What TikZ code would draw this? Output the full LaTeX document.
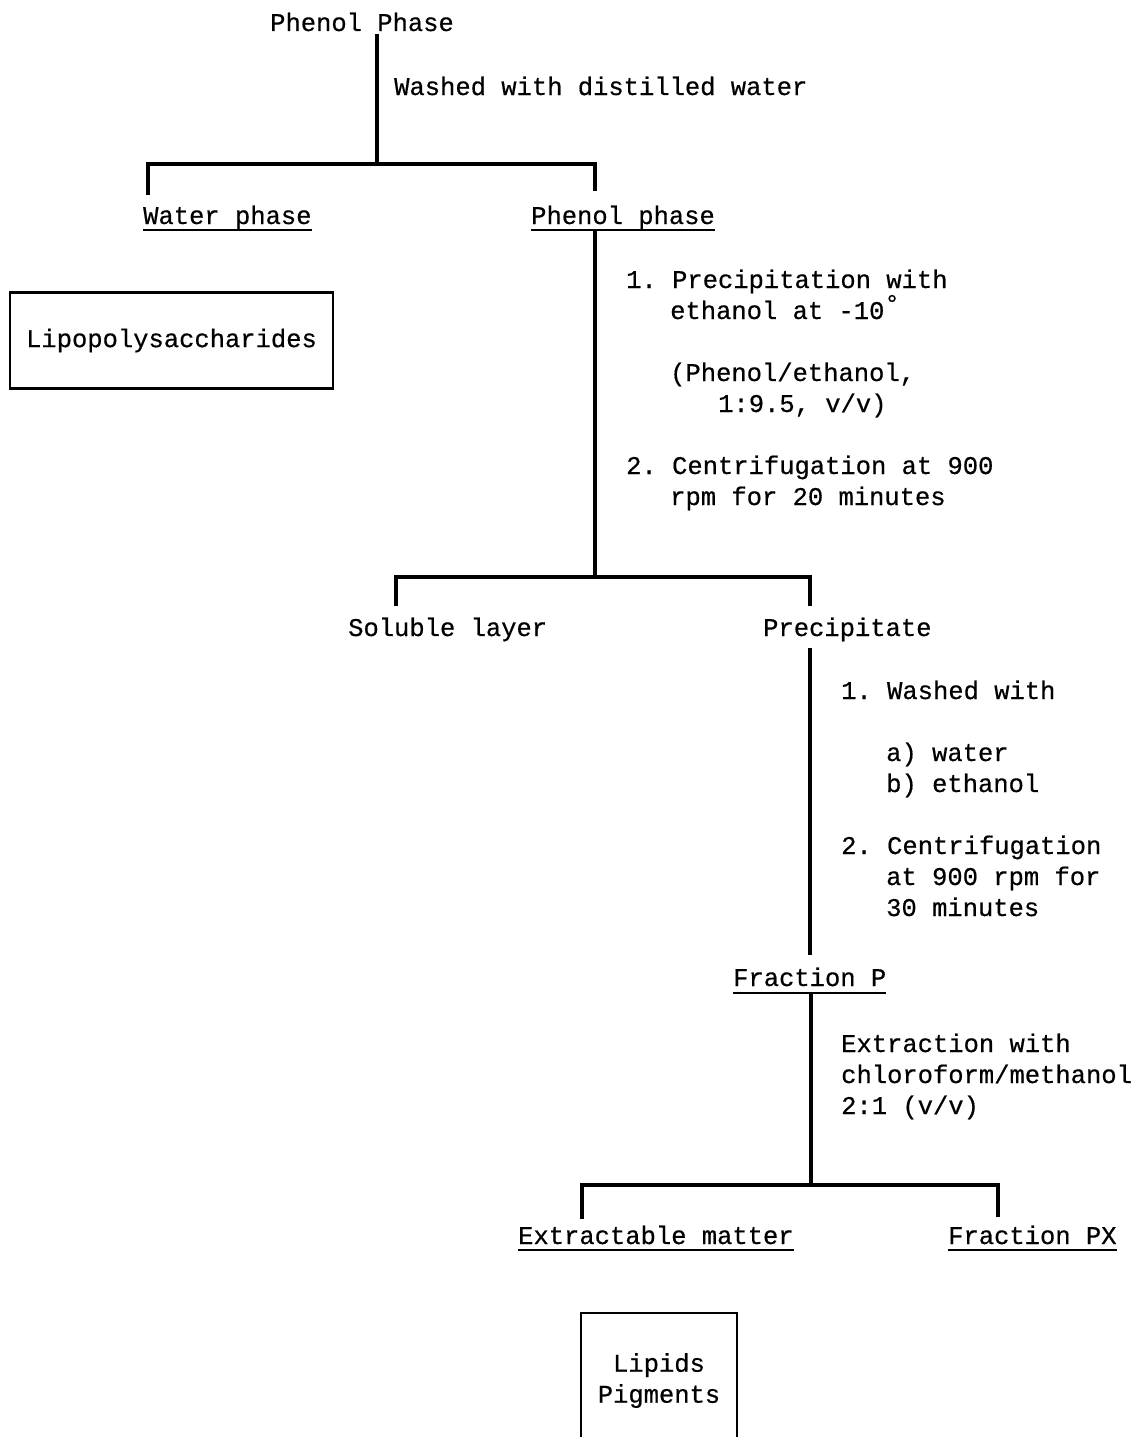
\documentclass[tikz,border=0pt]{standalone}
\usepackage{fontspec}
\setmonofont[FakeBold=0.5]{Liberation Mono}
\usetikzlibrary{calc}
\newcommand\twfont{\ttfamily\fontsize{25.5}{31}\selectfont}
\newcommand\Ln[1]{\hbox{#1}}
\begin{document}
\begin{tikzpicture}[x=1pt,y=-1pt,
  txt/.style={font=\twfont, inner sep=0pt, anchor=base west},
  blk/.style={font=\twfont, inner sep=0pt, anchor=base west},
  link/.style={line width=3.2pt},
  uline/.style={line width=2.2pt},
  framebox/.style={draw, line width=2.6pt, font=\twfont, inner sep=0pt, align=center}]
\useasboundingbox (0,0) rectangle (1145,1437);

% ---------- nodes ----------
\node[txt] (top) at (270,31) {Phenol Phase};
\node[txt] (wash) at (394,95) {Washed with distilled water};
\node[txt] (water) at (143,224) {Water phase};
\node[txt] (phen) at (531,224) {Phenol phase};
\node[framebox, minimum width=323pt, minimum height=96pt] (lps) at (171.5,340.5) {Lipopolysaccharides};
\node[blk] (s1) at (626,288) {\vtop{%
  \Ln{1. Precipitation with}
  \Ln{\hspace*{44pt}ethanol at -10\raisebox{7pt}{°}}
  \Ln{}
  \Ln{\hspace*{44pt}(Phenol/ethanol,}
  \Ln{\hspace*{92pt}1:9.5, v/v)}
  \Ln{}
  \Ln{2. Centrifugation at 900}
  \Ln{\hspace*{44pt}rpm for 20 minutes}}};
\node[txt] (sol) at (348,636) {Soluble layer};
\node[txt] (prec) at (763,636) {Precipitate};
\node[blk] (s2) at (841,699) {\vtop{%
  \Ln{1. Washed with}
  \Ln{}
  \Ln{\hspace*{45pt}a) water}
  \Ln{\hspace*{45pt}b) ethanol}
  \Ln{}
  \Ln{2. Centrifugation}
  \Ln{\hspace*{45pt}at 900 rpm for}
  \Ln{\hspace*{45pt}30 minutes}}};
\node[txt] (fp) at (733,986) {Fraction P};
\node[blk] (s3) at (841,1052) {\vtop{%
  \Ln{Extraction with}
  \Ln{chloroform/methanol}
  \Ln{2:1 (v/v)}}};
\node[txt] (ext) at (518,1244) {Extractable matter};
\node[txt] (fpx) at (948,1244) {Fraction PX};
\node[framebox, minimum width=156pt, minimum height=136pt] (lip) at (659,1381) {\begin{tabular}{c}Lipids\\Pigments\end{tabular}};

% ---------- underlines ----------
\foreach \n in {water,phen,ext,fpx}
  \draw[uline] ([yshift=-6pt]\n.base west) -- ([yshift=-6pt]\n.base east);
\draw[uline] ([yshift=-7pt]fp.base west) -- ([yshift=-7pt]fp.base east);

% ---------- junction coordinates ----------
\coordinate (j1) at (377,164);
\coordinate (j1l) at (148,164);
\coordinate (j1r) at (595,164);
\coordinate (d1l) at (148,195);
\coordinate (d1r) at (595,191);

\coordinate (j2) at (595,577);
\coordinate (j2l) at (396,577);
\coordinate (j2r) at (810,577);
\coordinate (d2l) at (396,606);
\coordinate (d2r) at (810,606);

\coordinate (j3) at (810,955);

\coordinate (j4) at (811,1185);
\coordinate (j4l) at (582,1185);
\coordinate (j4r) at (998,1185);
\coordinate (d4l) at (582,1219);
\coordinate (d4r) at (998,1217);

% ---------- connectors ----------
\draw[link] ([yshift=-3pt]top.south -| j1) -- (j1);
\draw[link] (d1l) -- (j1l) -- (j1r) -- (d1r);

\draw[link] ([yshift=-1pt]phen.south -| j2) -- (j2);
\draw[link] (d2l) -- (j2l) -- (j2r) -- (d2r);

\draw[link] ([yshift=-12pt]prec.base -| j3) -- (j3);

\draw[link] ([yshift=-7pt]fp.south -| j4) -- (j4);
\draw[link] (d4l) -- (j4l) -- (j4r) -- (d4r);
\end{tikzpicture}
\end{document}
